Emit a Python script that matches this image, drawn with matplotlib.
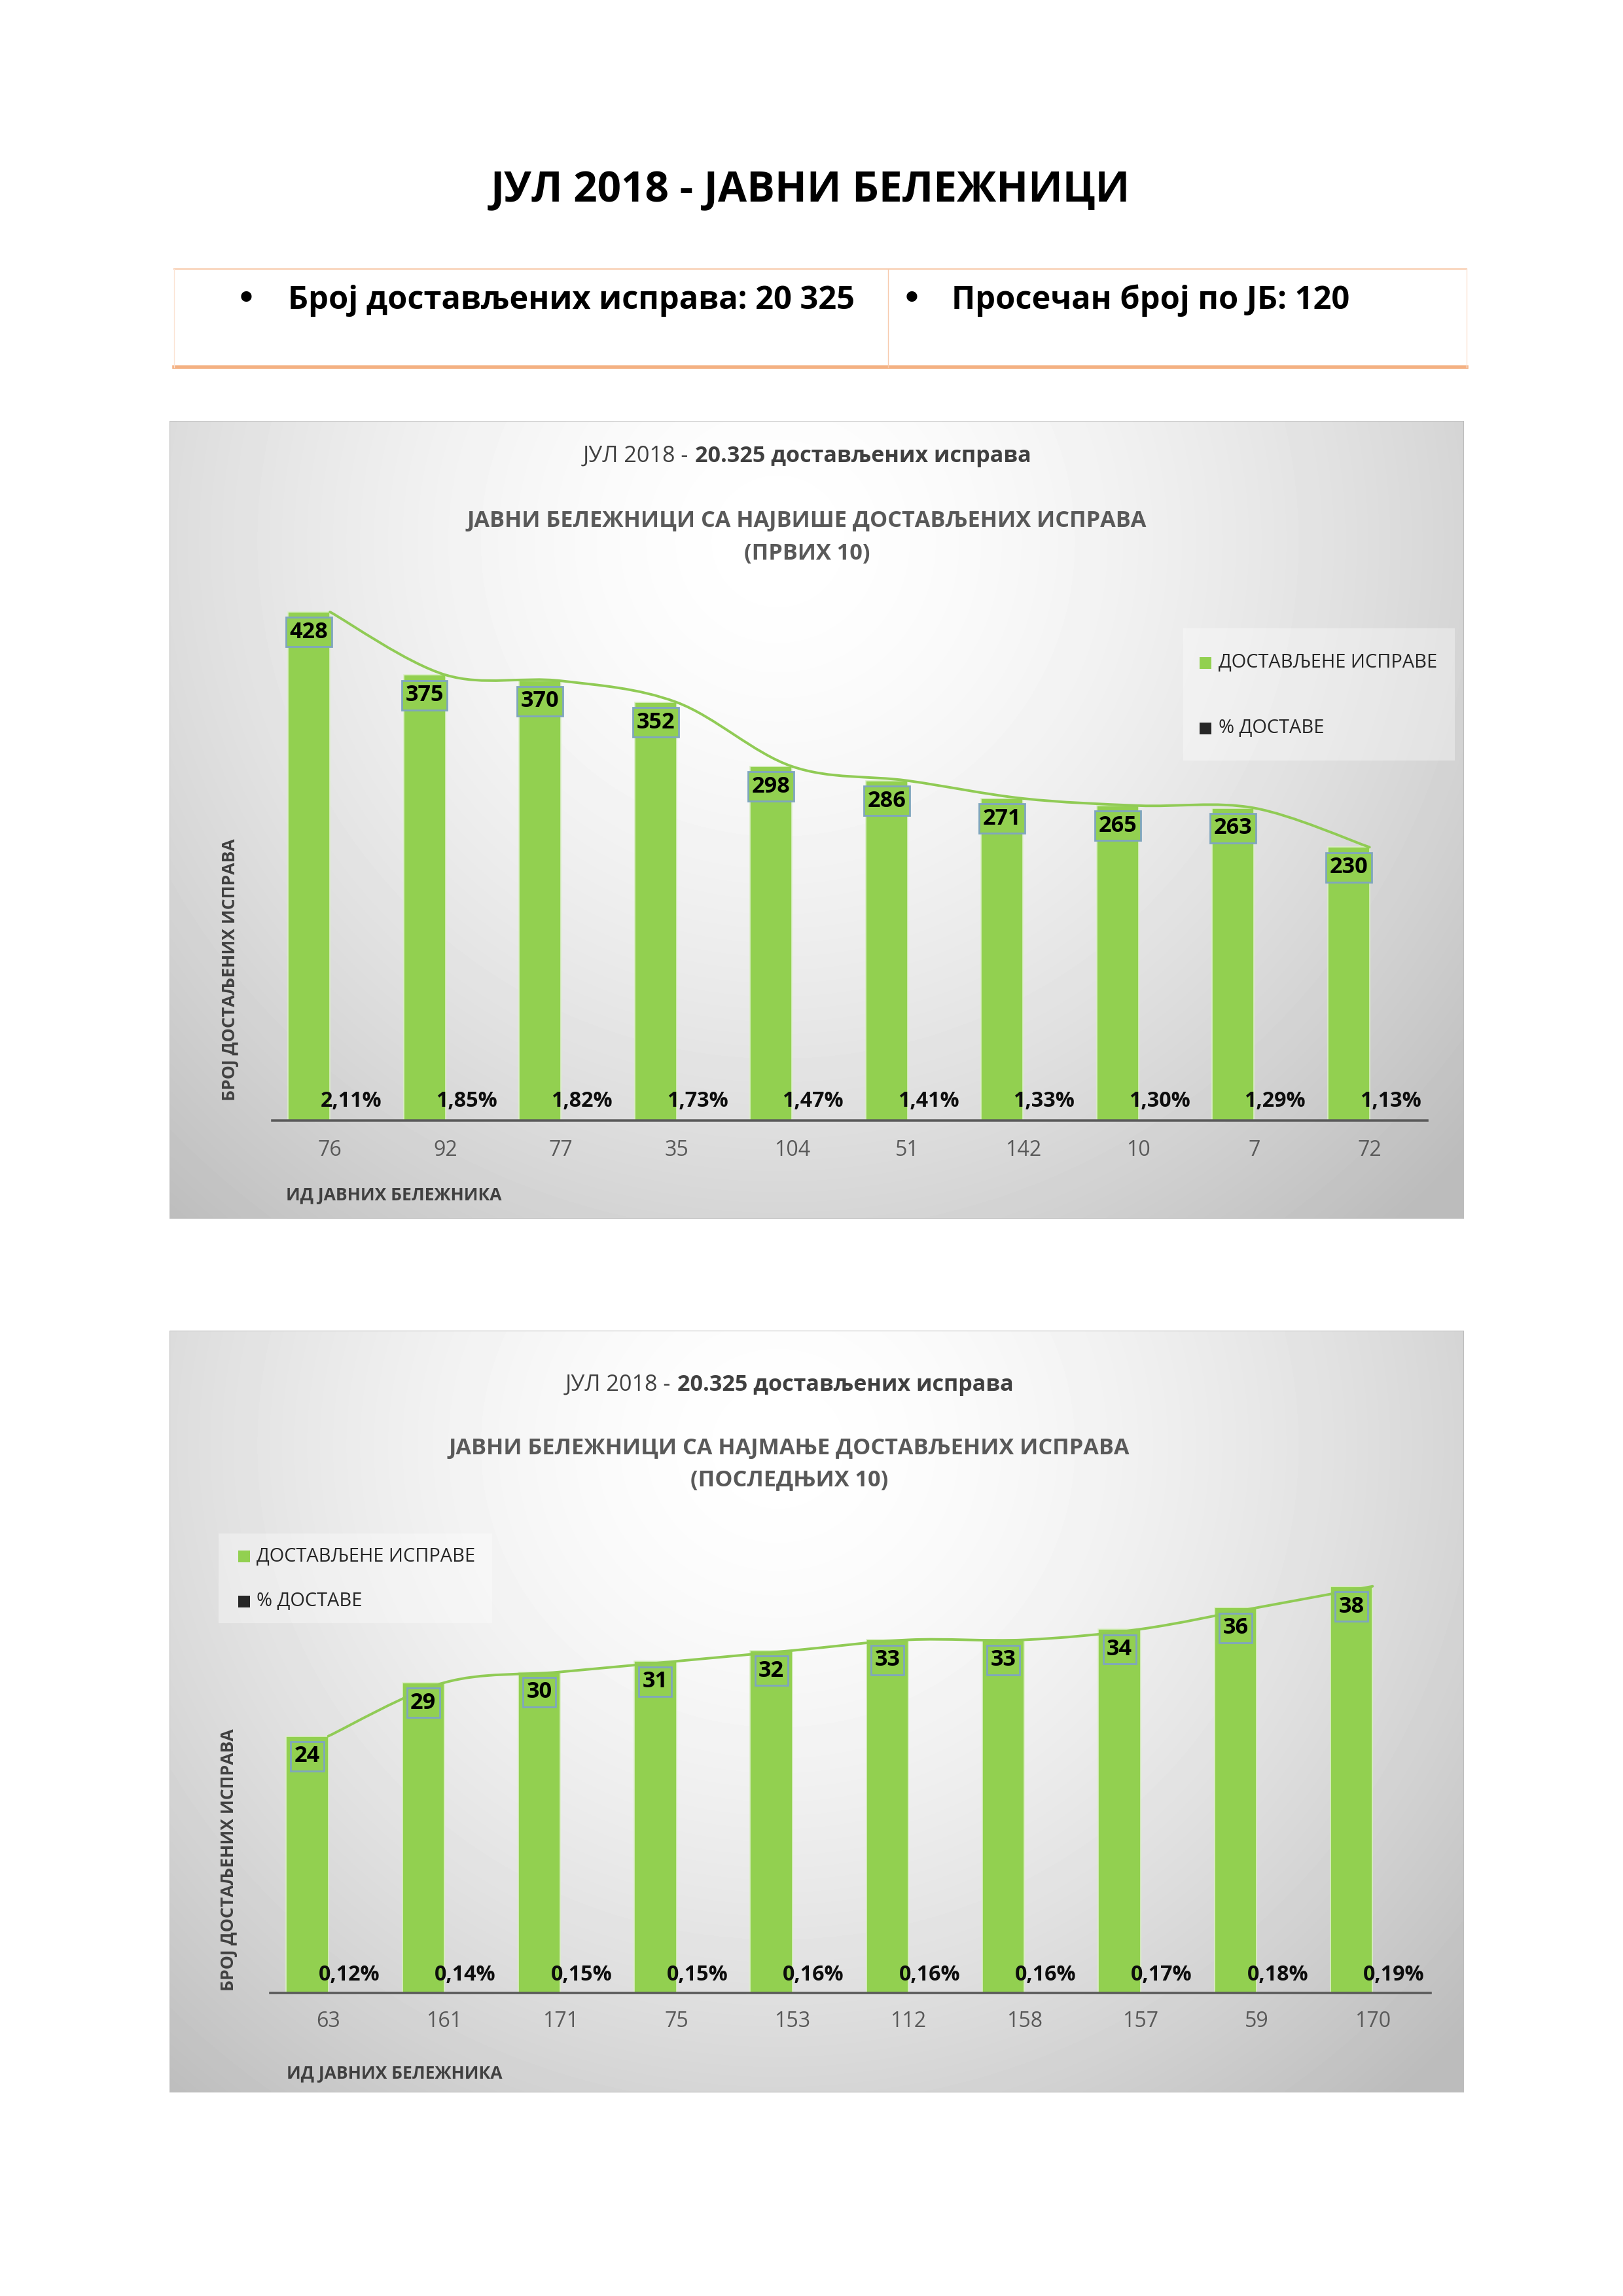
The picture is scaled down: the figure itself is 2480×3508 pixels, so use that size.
import numpy as np
import matplotlib
matplotlib.use('Agg')
import matplotlib.pyplot as plt
from matplotlib.patches import Rectangle, PathPatch
from matplotlib.path import Path

# ---------------- data ----------------
page_title = 'ЈУЛ 2018 - ЈАВНИ БЕЛЕЖНИЦИ'
header_left = 'Број достављених исправа: 20 325'
header_right = 'Просечан број по ЈБ: 120'

title1_a = 'ЈУЛ 2018 -'
title1_b = '20.325 достављених исправа'
top_title = 'ЈАВНИ БЕЛЕЖНИЦИ СА НАЈВИШЕ ДОСТАВЉЕНИХ ИСПРАВА'
top_sub = '(ПРВИХ 10)'
bottom_title = 'ЈАВНИ БЕЛЕЖНИЦИ СА НАЈМАЊЕ ДОСТАВЉЕНИХ ИСПРАВА'
bottom_sub = '(ПОСЛЕДЊИХ 10)'
legend_labels = ['ДОСТАВЉЕНЕ ИСПРАВЕ', '% ДОСТАВЕ']
y_title = 'БРОЈ ДОСТАЉЕНИХ ИСПРАВА'
x_title = 'ИД ЈАВНИХ БЕЛЕЖНИКА'

top_ids = ['76', '92', '77', '35', '104', '51', '142', '10', '7', '72']
top_counts = [428, 375, 370, 352, 298, 286, 271, 265, 263, 230]
top_pct = [2.11, 1.85, 1.82, 1.73, 1.47, 1.41, 1.33, 1.30, 1.29, 1.13]

bottom_ids = ['63', '161', '171', '75', '153', '112', '158', '157', '59', '170']
bottom_counts = [24, 29, 30, 31, 32, 33, 33, 34, 36, 38]
bottom_pct = [0.12, 0.14, 0.15, 0.15, 0.16, 0.16, 0.16, 0.17, 0.18, 0.19]

# ---------------- style ----------------
GREEN = '#92D050'
LINE_GREEN = '#90CB55'
DARK = '#262626'
W, H = 2480, 3508
PX = 100 / 72.0  # px per point at dpi 100

plt.rcParams['font.family'] = ['Open Sans', 'DejaVu Sans']

fig = plt.figure(figsize=(24.8, 35.08), dpi=100)
fig.patch.set_facecolor('white')
renderer = fig.canvas.get_renderer()


def rect(l, t, r, b):
    return [l / W, 1 - b / H, (r - l) / W, (b - t) / H]


# overlay axes (full page, pixel coordinates, y downwards)
ax_top = fig.add_axes([0, 0, 1, 1], zorder=20)
ax_top.set_xlim(0, W)
ax_top.set_ylim(H, 0)
ax_top.axis('off')
ax_top.patch.set_alpha(0)


def fs_for(s, target, weight='normal', size0=20.0):
    t = ax_top.text(0, 0, s, fontsize=size0, fontweight=weight)
    w = t.get_window_extent(renderer).width
    t.remove()
    return size0 * target / w


def text_w(s, fs, weight='normal'):
    t = ax_top.text(0, 0, s, fontsize=fs, fontweight=weight)
    w = t.get_window_extent(renderer).width
    t.remove()
    return w


# ---------------- page header ----------------
fs_pt = fs_for(page_title, 979, 'bold')
ax_top.text(1238, 308, page_title, ha='center', va='baseline', fontsize=fs_pt,
            fontweight='bold', color='black')

ax_top.plot([266, 2241], [411, 411], color='#F8CBAD', lw=1.5)
ax_top.plot([266, 2241], [561, 561], color='#F4B183', lw=4)
ax_top.plot([266, 266], [411, 561], color='#FBE4D5', lw=1)
ax_top.plot([2241, 2241], [411, 561], color='#FBE4D5', lw=1)
ax_top.plot([1357, 1357], [411, 561], color='#F8CBAD', lw=1)

fs_h = fs_for(header_left, 865, 'bold')
ax_top.text(440, 472, header_left, ha='left', va='baseline', fontsize=fs_h,
            fontweight='bold', color='black')
ax_top.text(1454, 472, header_right, ha='left', va='baseline', fontsize=fs_h,
            fontweight='bold', color='black')
for bx in (376, 1393):
    ax_top.text(bx, 474, '•', ha='center', va='baseline', fontsize=40,
                family=['DejaVu Sans'], color='black')

# shared font sizes
fs_t1 = fs_for(title1_a + ' ' + title1_b, 689, 'bold')
fs_t2 = fs_for(top_title, 1040, 'bold')
fs_leg = fs_for(legend_labels[0], 334)
fs_xt = fs_for(x_title, 330, 'bold')
fs_yt = fs_for(y_title, 376, 'bold') * 1.07
fs_pct = fs_for('2,11%', 91, 'bold') * 1.03
fs_tick = fs_for('104', 53) * 1.04
fs_val = fs_for('428', 50, 'bold') * 1.17


def gradient_bg(panel):
    l, t, r, b = panel
    axb = fig.add_axes(rect(l, t, r, b), zorder=1)
    u = np.linspace(0, 1, 400)
    v = np.linspace(0, 1, 300)
    U, V = np.meshgrid(u, v)
    R = np.sqrt(((U - 0.47) / 0.62) ** 2 + ((V - 0.15) / 1.0) ** 2)
    val = 1 - 0.21 * np.clip(R, 0, 1.15) ** 1.6
    axb.imshow(val, extent=[0, 1, 1, 0], aspect='auto', cmap='gray',
               vmin=0, vmax=1, interpolation='bilinear')
    axb.set_xlim(0, 1)
    axb.set_ylim(1, 0)
    axb.axis('off')
    axb.add_patch(Rectangle((0, 0), 1, 1, fill=False, ec='#BDBDBD', lw=1.5,
                            transform=axb.transAxes))


def smooth_path(xs, ys):
    P = np.column_stack([xs, ys]).astype(float)
    n = len(P)
    verts = [P[0]]
    codes = [Path.MOVETO]
    for i in range(n - 1):
        p0 = P[i - 1] if i > 0 else P[i]
        p1 = P[i]
        p2 = P[i + 1]
        p3 = P[i + 2] if i + 2 < n else P[i + 1]
        c1 = p1 + (p2 - p0) / 6.0
        c2 = p2 - (p3 - p1) / 6.0
        verts += [c1, c2, p2]
        codes += [Path.CURVE4] * 3
    return Path(verts, codes)


def draw_chart(panel, axbox, ymax, ids, counts, pct, sub_title, sub_line,
               title_cx, t1_base, t2_base, t3_base, legend_box, legend_rows,
               leg_sq_x, leg_txt_x, ylab_pos, xtitle_pos, pct_off, tick_pad):
    gradient_bg(panel)
    ax = fig.add_axes(rect(*axbox), zorder=2)
    ax.patch.set_alpha(0)
    n = len(counts)
    x = np.arange(n)
    w = 0.363
    ax.bar(x - w / 2, counts, width=w, color=GREEN, edgecolor='#DCEFC8',
           linewidth=1.2, zorder=2, label=legend_labels[0])
    ax.bar(x + w / 2, np.array(pct) / 100.0, width=w, color=DARK, zorder=2,
           label=legend_labels[1])
    path = smooth_path(x, counts)
    ax.add_patch(PathPatch(path, fill=False, ec=LINE_GREEN, lw=2.8, zorder=3,
                           capstyle='round'))
    for i in range(n):
        ax.annotate(str(counts[i]), xy=(x[i] - w / 2, counts[i]),
                    xytext=(0, -10), textcoords='offset points',
                    ha='center', va='top', fontsize=fs_val, fontweight='bold',
                    color='black', zorder=5,
                    bbox=dict(boxstyle='square,pad=0.16', fc=GREEN,
                              ec='#7FA6BE', lw=2))
        lbl = f'{pct[i]:.2f}%'.replace('.', ',')
        ax.annotate(lbl, xy=(x[i] + w / 2, 0), xytext=(0, pct_off),
                    textcoords='offset points', ha='center', va='center',
                    fontsize=fs_pct, fontweight='bold', color='#0D0D0D',
                    zorder=5)
    ax.set_xlim(-0.5, n - 0.5)
    ax.set_ylim(0, ymax)
    ax.set_yticks([])
    ax.set_xticks(x)
    ax.set_xticklabels(ids)
    ax.tick_params(axis='x', length=0, pad=tick_pad, labelsize=fs_tick,
                   labelcolor='#595959')
    for lb in ax.get_xticklabels():
        lb.set_va('center')
    for s in ('top', 'left', 'right'):
        ax.spines[s].set_visible(False)
    ax.spines['bottom'].set_color('#5A5A5A')
    ax.spines['bottom'].set_linewidth(2.6)
    ax.spines['bottom'].set_zorder(6)

    # titles
    wa = text_w(title1_a, fs_t1, 'normal')
    wb = text_w(title1_b, fs_t1, 'bold')
    gap = 0.3 * fs_t1 * PX
    total = wa + gap + wb
    left = title_cx - total / 2
    ax_top.text(left, t1_base, title1_a, ha='left', va='baseline',
                fontsize=fs_t1, color='#404040')
    ax_top.text(left + wa + gap, t1_base, title1_b, ha='left', va='baseline',
                fontsize=fs_t1, fontweight='bold', color='#404040')
    ax_top.text(title_cx, t2_base, sub_title, ha='center', va='baseline',
                fontsize=fs_t2, fontweight='bold', color='#595959')
    ax_top.text(title_cx, t3_base, sub_line, ha='center', va='baseline',
                fontsize=fs_t2, fontweight='bold', color='#595959')

    # legend
    l, t, r, b = legend_box
    ax_top.add_patch(Rectangle((l, t), r - l, b - t, fc='white', alpha=0.35,
                               ec='none'))
    for yy, col, lab in zip(legend_rows, [GREEN, DARK], legend_labels):
        ax_top.add_patch(Rectangle((leg_sq_x, yy - 9), 18, 18, fc=col,
                                   ec='none'))
        ax_top.text(leg_txt_x, yy, lab, ha='left', va='center',
                    fontsize=fs_leg, color=DARK)

    # axis titles
    ax_top.text(ylab_pos[0], ylab_pos[1], y_title, rotation=90, ha='center',
                va='center', fontsize=fs_yt, fontweight='bold',
                color='#404040')
    ax_top.text(xtitle_pos[0], xtitle_pos[1], x_title, ha='left',
                va='center', fontsize=fs_xt, fontweight='bold',
                color='#404040')


draw_chart(panel=(259, 643, 2237, 1862), axbox=(416, 895, 2181, 1712),
           ymax=450, ids=top_ids, counts=top_counts, pct=top_pct,
           sub_title=top_title, sub_line=top_sub, title_cx=1233,
           t1_base=706, t2_base=805, t3_base=855,
           legend_box=(1808, 960, 2223, 1162), legend_rows=(1013, 1113),
           leg_sq_x=1833, leg_txt_x=1862, ylab_pos=(352, 1482),
           xtitle_pos=(437, 1827), pct_off=21, tick_pad=33)

draw_chart(panel=(259, 2033, 2237, 3197), axbox=(413, 2391, 2186, 3045),
           ymax=40, ids=bottom_ids, counts=bottom_counts, pct=bottom_pct,
           sub_title=bottom_title, sub_line=bottom_sub, title_cx=1206,
           t1_base=2125, t2_base=2222, t3_base=2270,
           legend_box=(334, 2343, 752, 2480), legend_rows=(2378, 2447),
           leg_sq_x=364, leg_txt_x=392, ylab_pos=(350, 2842),
           xtitle_pos=(438, 3168), pct_off=19.5, tick_pad=31)

fig.savefig('out.png', dpi=100, facecolor='white')
